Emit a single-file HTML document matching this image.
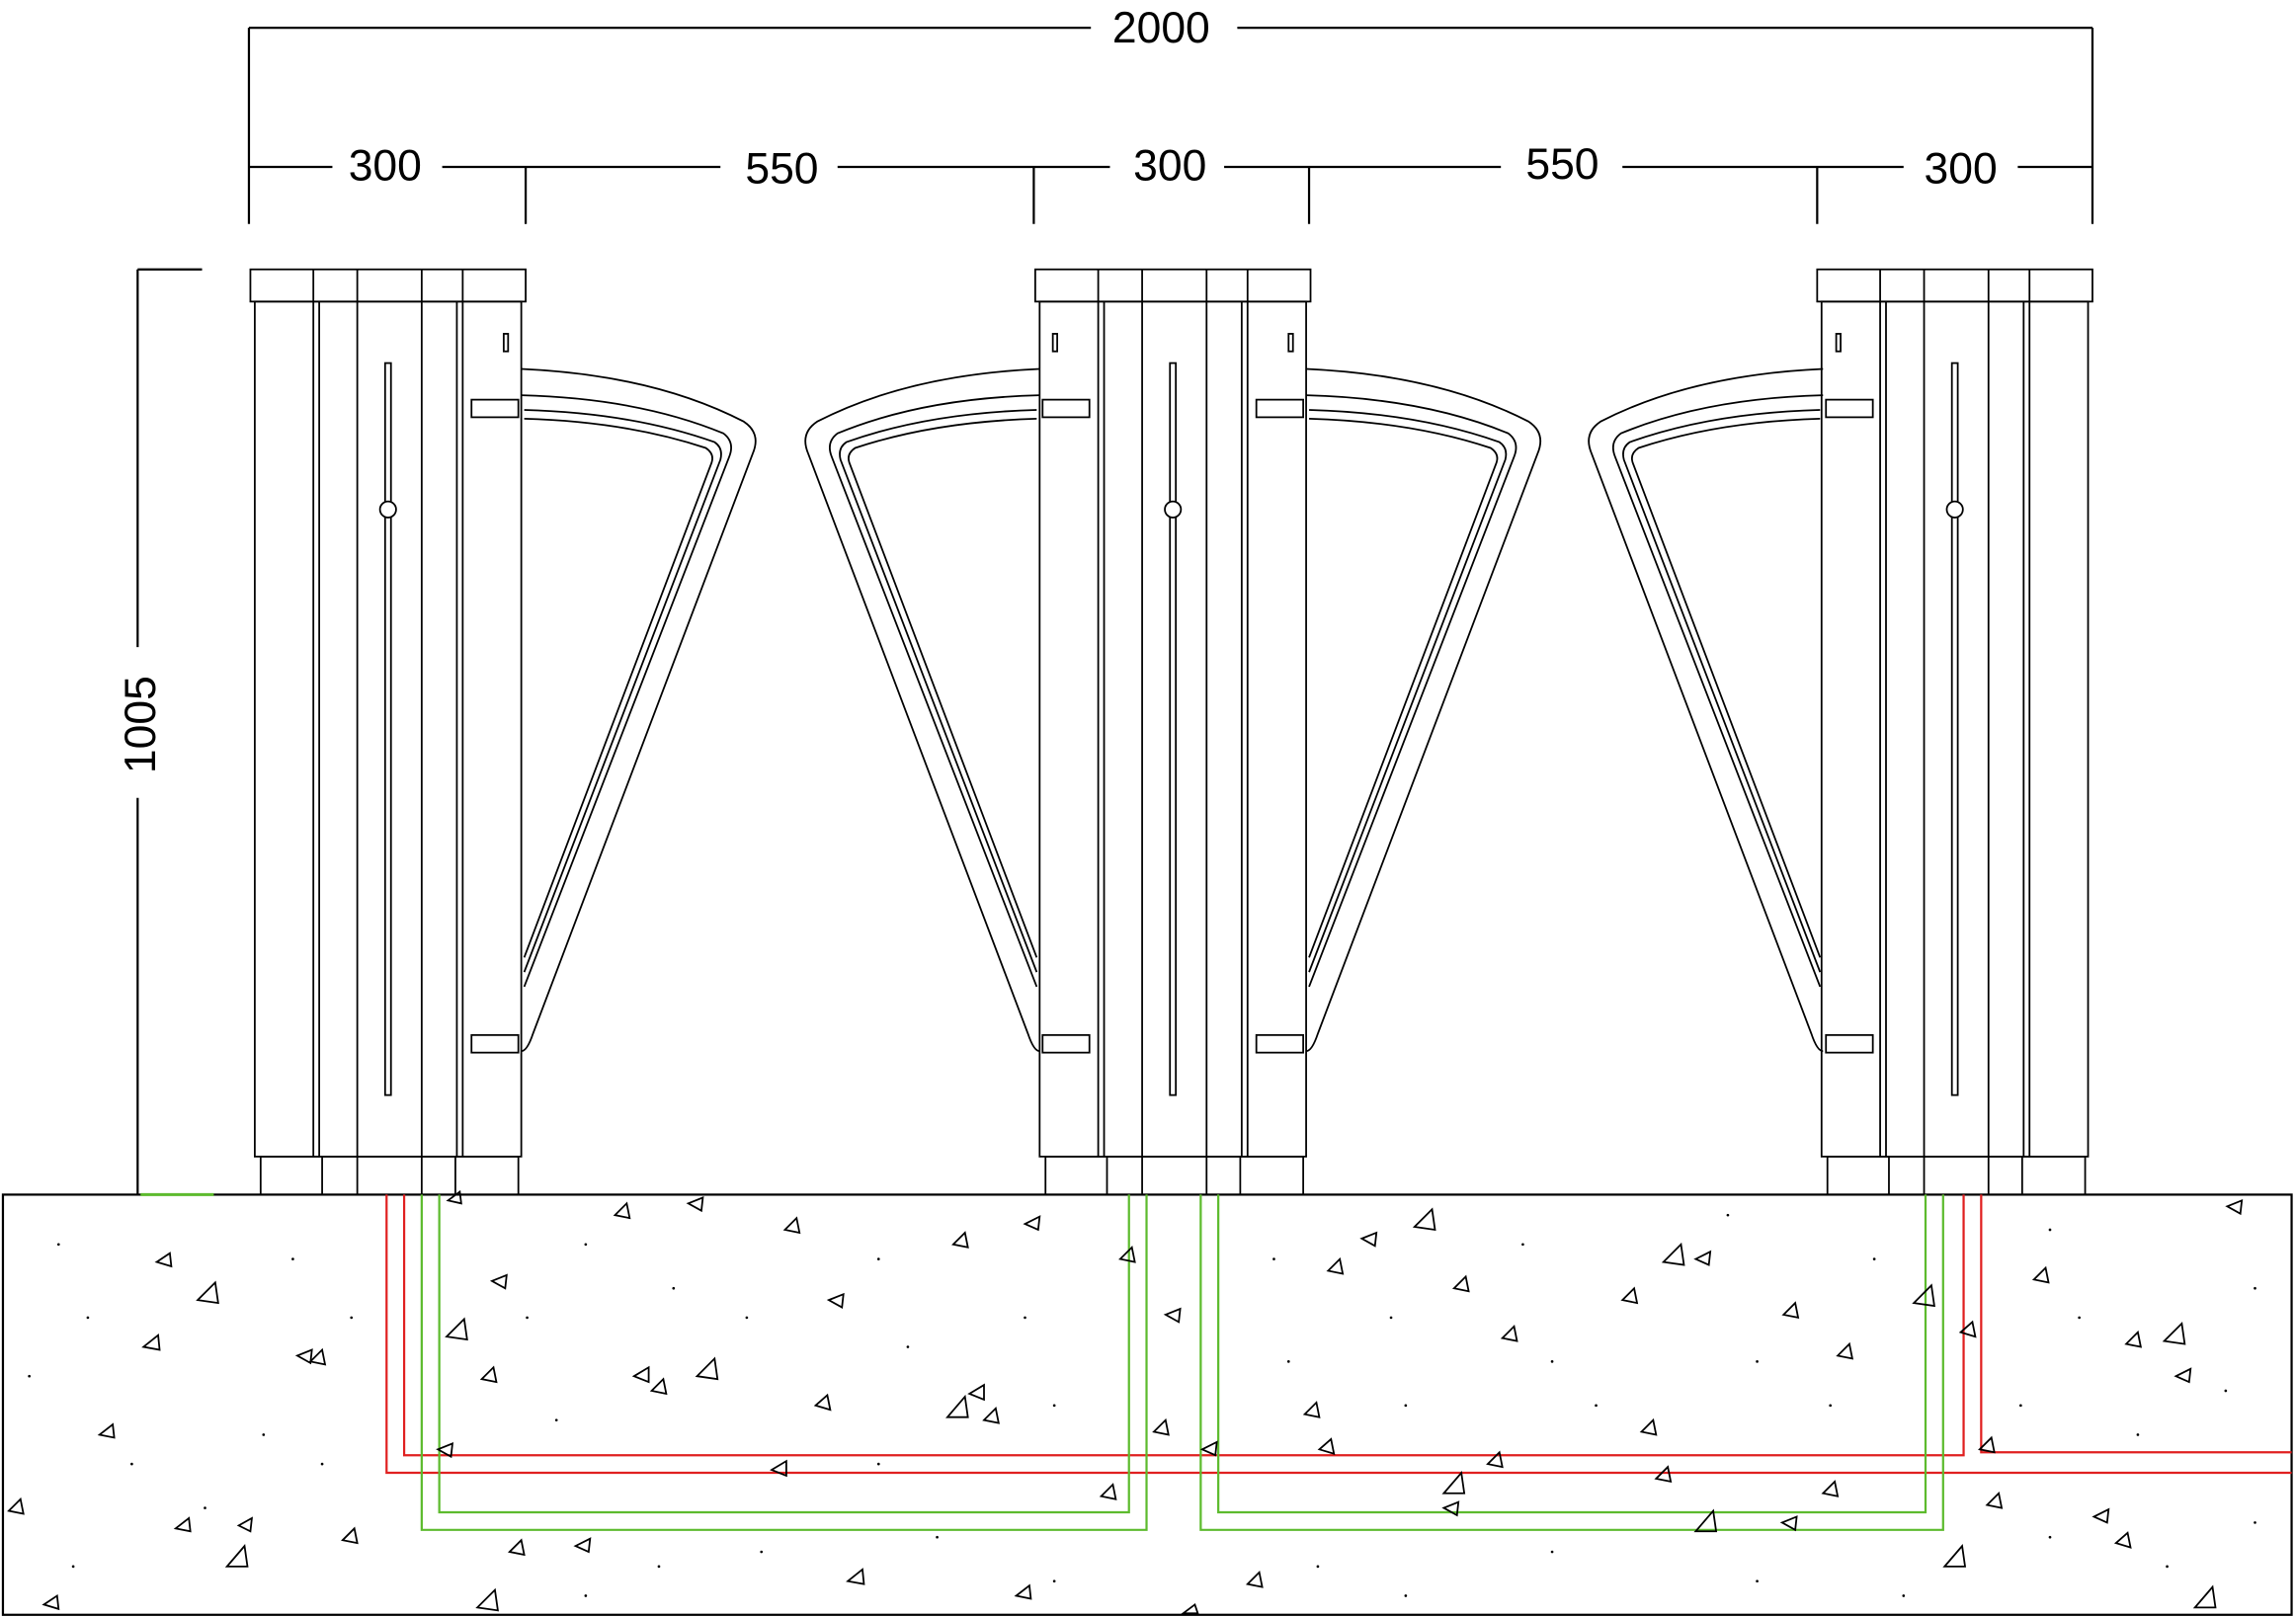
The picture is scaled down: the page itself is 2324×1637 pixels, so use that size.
<!DOCTYPE html>
<html><head><meta charset="utf-8"><style>
html,body{margin:0;padding:0;background:#fff;}
svg{display:block;}
text{font-family:"Liberation Sans",sans-serif;font-size:30px;fill:#000;}
</style></head><body>
<svg width="2324" height="1637" viewBox="0 0 1568 1104.5" preserveAspectRatio="none" xmlns="http://www.w3.org/2000/svg">
<defs>
<g id="post" fill="none" stroke="#000" stroke-width="1.2">
<rect x="1" y="0" width="188" height="22"/>
<line x1="44" y1="0" x2="44" y2="22"/><line x1="74" y1="0" x2="74" y2="22"/><line x1="118" y1="0" x2="118" y2="22"/><line x1="146" y1="0" x2="146" y2="22"/>
<rect x="4" y="22" width="182" height="584"/>
<line x1="44" y1="22" x2="44" y2="606"/><line x1="48" y1="22" x2="48" y2="606"/>
<line x1="74" y1="22" x2="74" y2="606"/><line x1="118" y1="22" x2="118" y2="606"/>
<line x1="142" y1="22" x2="142" y2="606"/><line x1="146" y1="22" x2="146" y2="606"/>
<rect x="93" y="64" width="4" height="500"/>
<circle cx="95" cy="164" r="5.5" fill="#fff"/>
<rect x="8" y="606" width="176" height="26"/>
<line x1="50" y1="606" x2="50" y2="632"/><line x1="74" y1="606" x2="74" y2="632"/><line x1="118" y1="606" x2="118" y2="632"/><line x1="141" y1="606" x2="141" y2="632"/>
</g>
<g id="wing" fill="none" stroke="#000" stroke-width="1.2">
<path d="M0,68 Q90,72 152,104 Q164,112 158,126 L8,522 Q4,534 0,534"/>
<path d="M0,86 Q80,88 138,112 Q146,118 142,128 L2,490"/>
<path d="M2,96 Q76,98 132,118 Q138,122 136,130 L2,480"/>
<path d="M2,102 Q72,104 126,122 Q132,126 130,132 L2,470"/>
<rect x="-34" y="89" width="32" height="12"/>
<rect x="-34" y="523" width="32" height="12"/>
<rect x="-12" y="44" width="3" height="12"/>
</g>
</defs>
<g stroke="#000" stroke-width="1.5" fill="none">
<line x1="170" y1="19" x2="745" y2="19"/><line x1="845" y1="19" x2="1429" y2="19"/>
<line x1="170" y1="19" x2="170" y2="153"/><line x1="1429" y1="19" x2="1429" y2="153"/>
<line x1="170" y1="114" x2="227" y2="114"/><line x1="302" y1="114" x2="492" y2="114"/>
<line x1="572" y1="114" x2="758" y2="114"/><line x1="836" y1="114" x2="1025" y2="114"/>
<line x1="1108" y1="114" x2="1300" y2="114"/><line x1="1378" y1="114" x2="1429" y2="114"/>
<line x1="359" y1="114" x2="359" y2="153"/><line x1="706" y1="114" x2="706" y2="153"/>
<line x1="894" y1="114" x2="894" y2="153"/><line x1="1241" y1="114" x2="1241" y2="153"/>
<line x1="94" y1="184" x2="138" y2="184"/><line x1="94" y1="184" x2="94" y2="442"/><line x1="94" y1="545" x2="94" y2="816"/>
</g>
<text x="793" y="29" text-anchor="middle">2000</text>
<text x="263" y="123" text-anchor="middle">300</text>
<text x="534" y="125" text-anchor="middle">550</text>
<text x="799" y="123" text-anchor="middle">300</text>
<text x="1067" y="122" text-anchor="middle">550</text>
<text x="1339" y="125" text-anchor="middle">300</text>
<text transform="translate(106,495) rotate(-90)" text-anchor="middle">1005</text>
<use href="#post" x="170" y="184"/>
<use href="#post" x="706" y="184"/>
<use href="#post" x="1240" y="184"/>
<use href="#wing" x="356" y="184"/>
<use href="#wing" x="892" y="184"/>
<use href="#wing" transform="translate(710,184) scale(-1,1)"/>
<use href="#wing" transform="translate(1245,184) scale(-1,1)"/>
<rect x="2" y="816" width="1563" height="287" fill="none" stroke="#000" stroke-width="1.5"/>
<line x1="96" y1="816" x2="146" y2="816" stroke="#5dbb2e" stroke-width="2"/>
<g fill="none" stroke="#e02020" stroke-width="1.5">
<path d="M264,816 V1006 H1565"/><path d="M276,816 V994 H1341 V816"/><path d="M1353,816 V992 H1565"/>
</g>
<g fill="none" stroke="#5dbb2e" stroke-width="1.5">
<path d="M288,816 V1045 H783 V816"/><path d="M300,816 V1033 H771 V816"/>
<path d="M820,816 V1045 H1327 V816"/><path d="M832,816 V1033 H1315 V816"/>
</g>
<g fill="none" stroke="#000" stroke-width="1.2">
<path d="M135,888 l12,-12 l2,14z"/><path d="M107,862 l9,-6 l1,9z"/><path d="M98,920 l10,-8 l1,10z"/><path d="M203,926 l10,-4 l-1,9z"/><path d="M212,930 l8,-8 l2,10z"/>
<path d="M68,980 l9,-7 l1,9z"/><path d="M6,1032 l8,-8 l2,10z"/><path d="M120,1044 l9,-7 l1,9z"/><path d="M155,1070 l12,-14 l2,14z"/><path d="M163,1042 l9,-5 l-1,9z"/>
<path d="M234,1052 l8,-8 l2,10z"/><path d="M30,1096 l9,-6 l1,9z"/><path d="M305,913 l12,-12 l2,14z"/><path d="M329,942 l8,-8 l2,10z"/><path d="M336,875 l10,-4 l-1,9z"/>
<path d="M433,940 l10,-6 l0,10z"/><path d="M445,950 l8,-8 l2,10z"/><path d="M476,940 l12,-12 l2,14z"/><path d="M557,960 l8,-7 l2,10z"/><path d="M566,888 l10,-4 l-1,9z"/>
<path d="M647,968 l12,-14 l2,14z"/><path d="M662,952 l10,-6 l0,10z"/><path d="M672,970 l8,-8 l2,10z"/><path d="M651,850 l8,-8 l2,10z"/><path d="M700,836 l10,-5 l-1,9z"/>
<path d="M536,840 l8,-8 l2,10z"/><path d="M420,830 l8,-8 l2,10z"/><path d="M470,822 l10,-4 l-1,9z"/><path d="M306,820 l8,-6 l1,8z"/><path d="M348,1060 l8,-8 l2,10z"/>
<path d="M393,1056 l10,-5 l-1,9z"/><path d="M326,1098 l12,-12 l2,14z"/><path d="M579,1080 l10,-8 l1,10z"/><path d="M694,1090 l9,-7 l1,9z"/><path d="M752,1022 l8,-8 l2,10z"/>
<path d="M788,978 l8,-8 l2,10z"/><path d="M796,898 l10,-4 l-1,9z"/><path d="M765,860 l8,-8 l2,10z"/><path d="M527,1004 l10,-6 l0,10z"/><path d="M299,990 l10,-4 l-1,9z"/>
<path d="M966,838 l12,-12 l2,14z"/><path d="M930,846 l10,-4 l-1,9z"/><path d="M907,868 l8,-8 l2,10z"/><path d="M993,880 l8,-8 l2,10z"/><path d="M1026,914 l8,-8 l2,10z"/>
<path d="M891,966 l8,-8 l2,10z"/><path d="M901,990 l8,-7 l2,10z"/><path d="M821,990 l10,-5 l-1,9z"/><path d="M986,1020 l12,-14 l2,14z"/><path d="M1016,1000 l8,-8 l2,10z"/>
<path d="M986,1030 l10,-4 l-1,9z"/><path d="M852,1082 l8,-8 l2,10z"/><path d="M1158,1046 l12,-14 l2,14z"/><path d="M1136,862 l12,-12 l2,14z"/><path d="M1158,860 l10,-5 l-1,9z"/>
<path d="M1108,888 l8,-8 l2,10z"/><path d="M1121,978 l8,-8 l2,10z"/><path d="M1131,1010 l8,-8 l2,10z"/><path d="M1217,1040 l10,-4 l-1,9z"/><path d="M1245,1020 l8,-8 l2,10z"/>
<path d="M1218,898 l8,-8 l2,10z"/><path d="M1255,926 l8,-8 l2,10z"/><path d="M1307,890 l12,-12 l2,14z"/><path d="M1339,910 l8,-7 l2,10z"/><path d="M1389,874 l8,-8 l2,10z"/>
<path d="M1452,918 l8,-8 l2,10z"/><path d="M1478,916 l12,-12 l2,14z"/><path d="M1486,940 l10,-5 l-1,9z"/><path d="M1357,1028 l8,-8 l2,10z"/><path d="M1430,1036 l10,-5 l-1,9z"/>
<path d="M1445,1054 l8,-7 l2,10z"/><path d="M1328,1070 l12,-14 l2,14z"/><path d="M1499,1098 l12,-14 l2,14z"/><path d="M1352,990 l8,-8 l2,10z"/><path d="M1521,824 l10,-4 l-1,9z"/>
<path d="M808,1102 l8,-6 l2,6z"/>
</g>
<g fill="#000">
<circle cx="40" cy="850" r="0.9"/><circle cx="60" cy="900" r="0.9"/><circle cx="20" cy="940" r="0.9"/><circle cx="90" cy="1000" r="0.9"/><circle cx="180" cy="980" r="0.9"/>
<circle cx="220" cy="1000" r="0.9"/><circle cx="140" cy="1030" r="0.9"/><circle cx="50" cy="1070" r="0.9"/><circle cx="200" cy="860" r="0.9"/><circle cx="240" cy="900" r="0.9"/>
<circle cx="360" cy="900" r="0.9"/><circle cx="400" cy="850" r="0.9"/><circle cx="380" cy="970" r="0.9"/><circle cx="460" cy="880" r="0.9"/><circle cx="510" cy="900" r="0.9"/>
<circle cx="600" cy="860" r="0.9"/><circle cx="620" cy="920" r="0.9"/><circle cx="700" cy="900" r="0.9"/><circle cx="720" cy="960" r="0.9"/><circle cx="600" cy="1000" r="0.9"/>
<circle cx="450" cy="1070" r="0.9"/><circle cx="520" cy="1060" r="0.9"/><circle cx="640" cy="1050" r="0.9"/><circle cx="720" cy="1080" r="0.9"/><circle cx="400" cy="1090" r="0.9"/>
<circle cx="870" cy="860" r="0.9"/><circle cx="880" cy="930" r="0.9"/><circle cx="950" cy="900" r="0.9"/><circle cx="960" cy="960" r="0.9"/><circle cx="1040" cy="850" r="0.9"/>
<circle cx="1060" cy="930" r="0.9"/><circle cx="1090" cy="960" r="0.9"/><circle cx="900" cy="1070" r="0.9"/><circle cx="960" cy="1090" r="0.9"/><circle cx="1060" cy="1060" r="0.9"/>
<circle cx="1180" cy="830" r="0.9"/><circle cx="1200" cy="930" r="0.9"/><circle cx="1280" cy="860" r="0.9"/><circle cx="1250" cy="960" r="0.9"/><circle cx="1200" cy="1080" r="0.9"/>
<circle cx="1400" cy="840" r="0.9"/><circle cx="1420" cy="900" r="0.9"/><circle cx="1380" cy="960" r="0.9"/><circle cx="1460" cy="980" r="0.9"/><circle cx="1520" cy="950" r="0.9"/>
<circle cx="1540" cy="880" r="0.9"/><circle cx="1400" cy="1050" r="0.9"/><circle cx="1480" cy="1070" r="0.9"/><circle cx="1540" cy="1040" r="0.9"/><circle cx="1300" cy="1090" r="0.9"/>
</g>
</svg>
</body></html>
